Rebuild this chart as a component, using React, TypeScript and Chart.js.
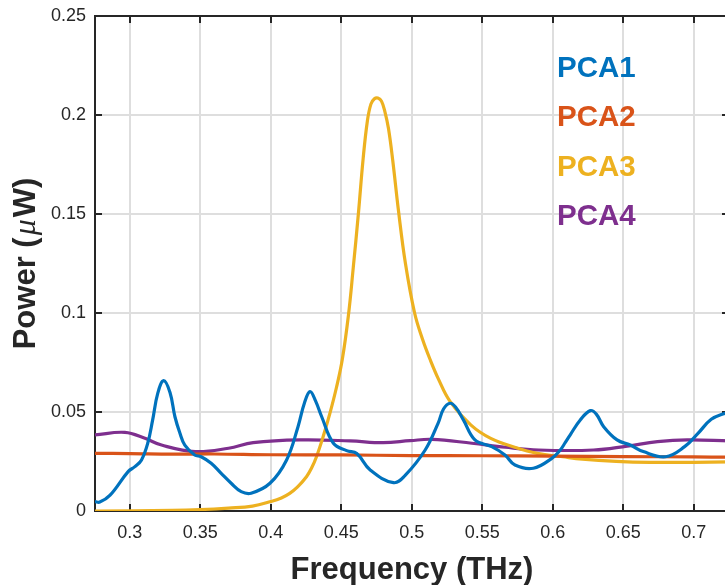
import React, { useEffect, useRef } from 'react';
import { Chart, registerables } from 'chart.js';

Chart.register(...registerables);

// ---- Axis ticks ----
const xTicks = [0.3, 0.35, 0.4, 0.45, 0.5, 0.55, 0.6, 0.65, 0.7];
const xTickLabels = ['0.3', '0.35', '0.4', '0.45', '0.5', '0.55', '0.6', '0.65', '0.7'];
const yTicks = [0, 0.05, 0.1, 0.15, 0.2, 0.25];
const yTickLabels = ['0', '0.05', '0.1', '0.15', '0.2', '0.25'];
const xMin = 0.2753;
const xMax = 0.725;
const yMin = 0;
const yMax = 0.25;

const xTitle = 'Frequency (THz)';
const yTitleParts = ['Power (', 'μ', 'W)'];

// ---- Series ----
const seriesNames = ['PCA1', 'PCA2', 'PCA3', 'PCA4'];
const seriesColors = ['#0072BD', '#D95319', '#EDB120', '#7E2F8E'];

const pca1Freq = [0.2753, 0.2787, 0.2860, 0.2988, 0.3036, 0.3083, 0.3127, 0.3162, 0.3198, 0.3240, 0.3285, 0.3320, 0.3355, 0.3390, 0.3460, 0.3506, 0.3577, 0.3648, 0.3719, 0.3790, 0.3860, 0.3994, 0.4112, 0.4193, 0.4238, 0.4278, 0.4318, 0.4361, 0.4444, 0.4538, 0.4610, 0.4705, 0.4870, 0.4953, 0.5095, 0.5187, 0.5225, 0.5270, 0.5310, 0.5366, 0.5448, 0.5567, 0.5661, 0.5732, 0.5862, 0.5993, 0.6053, 0.6088, 0.6124, 0.6195, 0.6267, 0.6310, 0.6361, 0.6456, 0.6550, 0.6642, 0.6800, 0.6935, 0.7030, 0.7124, 0.7218, 0.7250];
const pca1Power = [0.0047, 0.0045, 0.0080, 0.0199, 0.0224, 0.0258, 0.0342, 0.0460, 0.0594, 0.0658, 0.0598, 0.0476, 0.0394, 0.0333, 0.0283, 0.0274, 0.0241, 0.0190, 0.0140, 0.0098, 0.0090, 0.0140, 0.0258, 0.0426, 0.0544, 0.0603, 0.0555, 0.0476, 0.0342, 0.0305, 0.0290, 0.0207, 0.0143, 0.0180, 0.0308, 0.0444, 0.0515, 0.0544, 0.0525, 0.0460, 0.0359, 0.0325, 0.0283, 0.0232, 0.0216, 0.0266, 0.0308, 0.0345, 0.0385, 0.0460, 0.0507, 0.0488, 0.0426, 0.0359, 0.0333, 0.0300, 0.0274, 0.0325, 0.0392, 0.0463, 0.0493, 0.0497];

const pca2Freq = [0.2753, 0.3000, 0.3300, 0.3600, 0.4000, 0.4500, 0.5000, 0.5500, 0.6000, 0.6500, 0.7000, 0.7250];
const pca2Power = [0.0291, 0.0290, 0.0287, 0.0288, 0.0284, 0.0283, 0.0280, 0.0279, 0.0277, 0.0275, 0.0273, 0.0272];

const pca3Freq = [0.2753, 0.3300, 0.3500, 0.3700, 0.3870, 0.4000, 0.4075, 0.4134, 0.4190, 0.4253, 0.4290, 0.4324, 0.4371, 0.4419, 0.4466, 0.4507, 0.4550, 0.4585, 0.4621, 0.4655, 0.4685, 0.4710, 0.4735, 0.4759, 0.4785, 0.4810, 0.4835, 0.4865, 0.4905, 0.4955, 0.5020, 0.5075, 0.5130, 0.5190, 0.5270, 0.5420, 0.5560, 0.5730, 0.5890, 0.6070, 0.6210, 0.6450, 0.6690, 0.7000, 0.7250];
const pca3Power = [0.0000, 0.0003, 0.0007, 0.0015, 0.0025, 0.0048, 0.0066, 0.0089, 0.0122, 0.0173, 0.0218, 0.0274, 0.0375, 0.0493, 0.0625, 0.0765, 0.0985, 0.1230, 0.1500, 0.1780, 0.1970, 0.2055, 0.2082, 0.2086, 0.2070, 0.2015, 0.1930, 0.1770, 0.1520, 0.1250, 0.1000, 0.0870, 0.0765, 0.0665, 0.0555, 0.0434, 0.0367, 0.0322, 0.0291, 0.0274, 0.0262, 0.0251, 0.0246, 0.0246, 0.0248];

const pca4Freq = [0.2753, 0.2965, 0.3107, 0.3225, 0.3463, 0.3700, 0.3875, 0.4207, 0.4562, 0.4797, 0.4988, 0.5142, 0.5426, 0.5663, 0.5900, 0.6290, 0.6527, 0.6743, 0.6953, 0.7250];
const pca4Power = [0.0384, 0.0397, 0.0367, 0.0333, 0.0300, 0.0317, 0.0345, 0.0359, 0.0354, 0.0345, 0.0355, 0.0362, 0.0342, 0.0322, 0.0308, 0.0308, 0.0328, 0.0350, 0.0359, 0.0354];

const seriesFreq = [pca1Freq, pca2Freq, pca3Freq, pca4Freq];
const seriesPower = [pca1Power, pca2Power, pca3Power, pca4Power];

const FONT = '"Liberation Sans", Arial, Helvetica, sans-serif';
const AXIS_COLOR = '#262626';

const decorPlugin = {
  id: 'decor',
  beforeDatasetsDraw(chart: any) {
    const { ctx, chartArea: a, scales } = chart;
    ctx.save();
    ctx.strokeStyle = AXIS_COLOR;
    ctx.lineWidth = 2;
    ctx.beginPath();
    const tl = 7;
    xTicks.forEach((v) => {
      const px = Math.round(scales.x.getPixelForValue(v));
      ctx.moveTo(px, a.bottom);
      ctx.lineTo(px, a.bottom - tl);
      ctx.moveTo(px, a.top);
      ctx.lineTo(px, a.top + tl);
    });
    yTicks.forEach((v) => {
      const py = Math.round(scales.y.getPixelForValue(v));
      ctx.moveTo(a.left, py);
      ctx.lineTo(a.left + tl, py);
      ctx.moveTo(a.right, py);
      ctx.lineTo(a.right - tl, py);
    });
    ctx.stroke();
    ctx.strokeRect(a.left, a.top, a.right - a.left, a.bottom - a.top);
    ctx.restore();
  },
  afterDraw(chart: any) {
    const { ctx, chartArea: a } = chart;
    ctx.save();
    // x title
    ctx.fillStyle = AXIS_COLOR;
    ctx.font = `bold 31px ${FONT}`;
    ctx.textAlign = 'center';
    ctx.textBaseline = 'alphabetic';
    ctx.fillText(xTitle, (a.left + a.right) / 2, 579);

    // y title (rotated), with italic mu
    const fonts = [`bold 31px ${FONT}`, `italic 32px "Liberation Serif", serif`, `bold 31px ${FONT}`];
    const gaps = [2, 2, 0];
    const widths = yTitleParts.map((t, i) => {
      ctx.font = fonts[i];
      return ctx.measureText(t).width + gaps[i];
    });
    const total = widths.reduce((s, w) => s + w, 0);
    ctx.translate(35, (a.top + a.bottom) / 2);
    ctx.rotate(-Math.PI / 2);
    ctx.textAlign = 'left';
    let xPos = -total / 2;
    yTitleParts.forEach((t, i) => {
      ctx.font = fonts[i];
      ctx.fillText(t, xPos, 0);
      xPos += widths[i];
    });
    ctx.restore();

    // legend (text only)
    ctx.save();
    ctx.font = `bold 29.5px ${FONT}`;
    ctx.textAlign = 'left';
    ctx.textBaseline = 'alphabetic';
    seriesNames.forEach((n, i) => {
      ctx.fillStyle = seriesColors[i];
      ctx.fillText(n, 557, 77 + i * 49.3);
    });
    ctx.restore();
  },
};

export default function App() {
  const canvasRef = useRef<HTMLCanvasElement | null>(null);

  useEffect(() => {
    const canvas = canvasRef.current;
    if (!canvas) return;
    const datasets = seriesNames.map((name, i) => ({
      label: name,
      data: seriesFreq[i].map((f, j) => ({ x: f, y: seriesPower[i][j] })),
      borderColor: seriesColors[i],
      backgroundColor: seriesColors[i],
      borderWidth: 3.2,
      pointRadius: 0,
      fill: false,
      tension: 0.4,
    }));
    const chart = new Chart(canvas, {
      type: 'line',
      data: { datasets },
      plugins: [decorPlugin],
      options: {
        responsive: false,
        animation: false,
        devicePixelRatio: 1,
        layout: { padding: { left: 0, top: 16, right: 16, bottom: 0 } },
        plugins: {
          legend: { display: false },
          tooltip: { enabled: false },
        },
        scales: {
          x: {
            type: 'linear',
            min: xMin,
            max: xMax,
            afterBuildTicks: (scale: any) => {
              scale.ticks = xTicks.map((v) => ({ value: v }));
            },
            afterFit: (scale: any) => {
              scale.height = 74;
              scale.paddingLeft = 0;
              scale.paddingRight = 0;
            },
            ticks: {
              callback: (_v: any, idx: number) => xTickLabels[idx],
              font: { family: FONT, size: 18 },
              color: AXIS_COLOR,
              padding: 11,
              maxRotation: 0,
              autoSkip: false,
            },
            grid: { color: '#dedede', lineWidth: 2, drawTicks: false },
            border: { display: false },
          },
          y: {
            type: 'linear',
            min: yMin,
            max: yMax,
            afterBuildTicks: (scale: any) => {
              scale.ticks = yTicks.map((v) => ({ value: v }));
            },
            afterFit: (scale: any) => {
              scale.width = 95;
              scale.paddingTop = 0;
              scale.paddingBottom = 0;
            },
            ticks: {
              callback: (_v: any, idx: number) => yTickLabels[idx],
              font: { family: FONT, size: 18 },
              color: AXIS_COLOR,
              padding: 9,
              autoSkip: false,
            },
            grid: { color: '#dedede', lineWidth: 2, drawTicks: false },
            border: { display: false },
          },
        },
      },
    });
    return () => chart.destroy();
  }, []);

  return (
    <div style={{ position: 'fixed', left: 0, top: 0, width: 725, height: 585, overflow: 'hidden', background: '#fff' }}>
      <canvas ref={canvasRef} width={745} height={585} style={{ width: 745, height: 585, display: 'block' }} />
    </div>
  );
}
